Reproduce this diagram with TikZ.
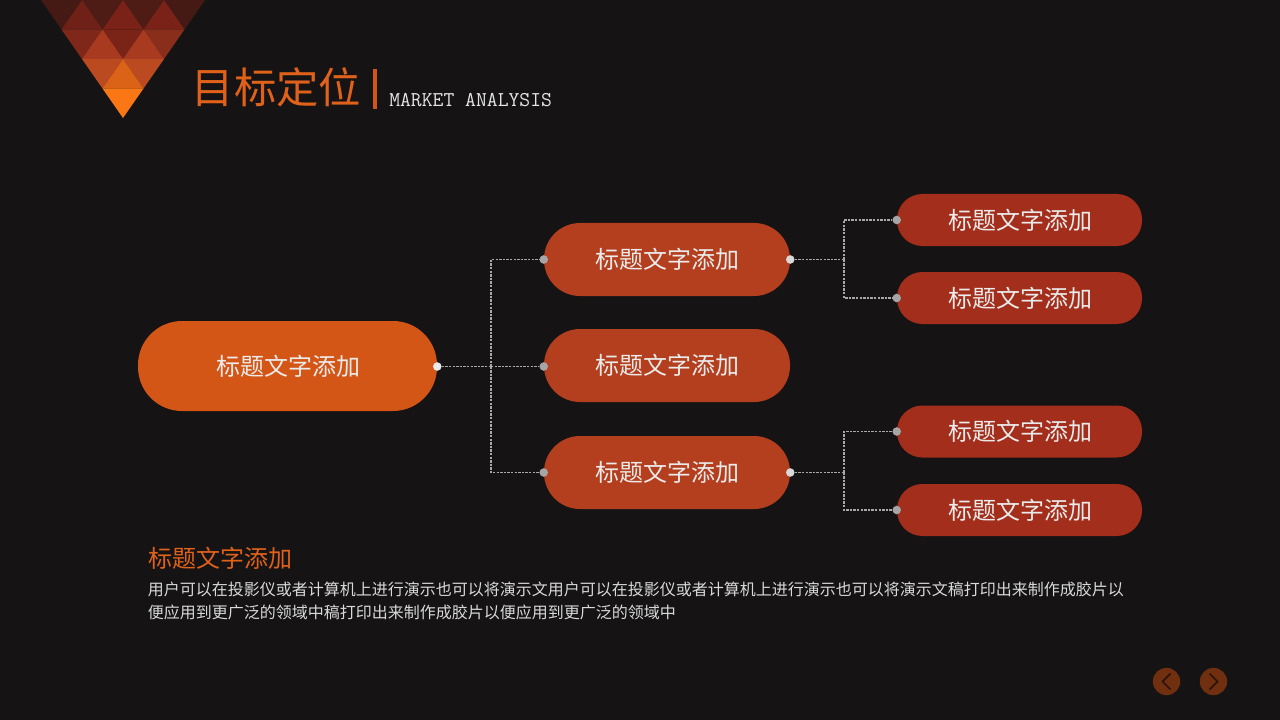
\documentclass[tikz,border=0pt]{standalone}
\usepackage{fontspec}
\setmainfont{Noto Sans CJK SC}[BoldFont={Noto Sans CJK SC}]
\newfontfamily\latinmono{Latin Modern Mono}
\definecolor{bg}{HTML}{151314}
\definecolor{oA}{HTML}{D35616}
\definecolor{oB}{HTML}{B43F1E}
\definecolor{oC}{HTML}{A22E1B}
\definecolor{titlec}{HTML}{E0621A}
\definecolor{navc}{HTML}{70300F}
\definecolor{navd}{HTML}{2C130C}
\definecolor{triD}{HTML}{DB6318}
\definecolor{triE}{HTML}{FB7614}
\tikzset{
  x=0.75pt,y=-0.75pt,
  pillA/.style={fill=oA,rounded corners=33pt,minimum width=224.25pt,minimum height=67.5pt,inner sep=0pt,text=white!92!black,font=\fontsize{18pt}{20pt}\selectfont},
  pillB/.style={fill=oB,rounded corners=27pt,minimum width=184.5pt,minimum height=54.75pt,inner sep=0pt,text=white!92!black,font=\fontsize{18pt}{20pt}\selectfont},
  pillC/.style={fill=oC,rounded corners=19pt,minimum width=183.75pt,minimum height=39pt,inner sep=0pt,text=white!92!black,font=\fontsize{18pt}{20pt}\selectfont},
  dotw/.style={circle,fill=#1,minimum size=6.4pt,inner sep=0pt},
  link/.style={draw=white!66!black,line width=0.85pt,dash pattern=on 1.8pt off 0.9pt},
  navbtn/.style={circle,fill=navc,minimum size=20.5pt,inner sep=0pt},
  chev/.style={draw=navd,line width=1.3pt}
}
\begin{document}
\begin{tikzpicture}
\path[fill=bg] (0,0) rectangle (1280,720);
\useasboundingbox (0,0) rectangle (1280,720);
% triangle mosaic
\foreach \i/\c in {0/451A15,1/4E1B15,2/4E1B15,3/451A15}{
  \definecolor{tc}{HTML}{\c}
  \fill[tc] ({41+41*\i},0) -- ({82+41*\i},0) -- ({61.5+41*\i},29.5) -- cycle;}
\foreach \i/\c in {0/6F2017,1/7A2118,2/7A2118}{
  \definecolor{tc}{HTML}{\c}
  \fill[tc] ({82+41*\i-20.5},29.5) -- ({82+41*\i},0) -- ({102.5+41*\i},29.5) -- cycle;}
\foreach \i/\c in {0/7F2819,1/7A2418,2/8A2E1C}{
  \definecolor{tc}{HTML}{\c}
  \fill[tc] ({61.5+41*\i},29.5) -- ({102.5+41*\i},29.5) -- ({82+41*\i},59) -- cycle;}
\foreach \i/\c in {0/A83A20,1/A83A20}{
  \definecolor{tc}{HTML}{\c}
  \fill[tc] ({82+41*\i},59) -- ({102.5+41*\i},29.5) -- ({123+41*\i},59) -- cycle;}
\foreach \i/\c in {0/BC4A20,1/BC4A20}{
  \definecolor{tc}{HTML}{\c}
  \fill[tc] ({82+41*\i},59) -- ({123+41*\i},59) -- ({102.5+41*\i},88.5) -- cycle;}
\fill[triD] (102.5,88.5) -- (123,59) -- (143.5,88.5) -- cycle;
\fill[triE] (102.5,88.5) -- (143.5,88.5) -- (123,118) -- cycle;
% title
\node[anchor=west,inner sep=0pt,text=titlec,font=\fontsize{31.75pt}{34pt}\selectfont] (title) at (191.5,87.5) {目标定位};
\node[anchor=center,fill=oA,minimum width=3pt,minimum height=30pt,inner sep=0pt] (bar) at (374.5,89) {};
\node[anchor=west,inner sep=0pt,text=white!90!black,font=\latinmono\fontsize{15.8pt}{18pt}\selectfont] (sub) at (389,100) {MARKET ANALYSIS};
% nodes
\node[pillA] (m) at (287.5,366) {\hspace*{1pt}\raisebox{-0.6pt}{标题文字添加}};
\node[pillB] (b1) at (667,259.5) {\raisebox{-0.4pt}{标题文字添加}};
\node[pillB] (b2) at (667,365.5) {标题文字添加};
\node[pillB] (b3) at (667,472.5) {\raisebox{-0.4pt}{标题文字添加}};
\node[pillC] (c1) at (1019.5,220) {\hspace*{1pt}标题文字添加};
\node[pillC] (c2) at (1019.5,298) {\hspace*{1pt}标题文字添加};
\node[pillC] (c3) at (1019.5,431.5) {\hspace*{1pt}标题文字添加};
\node[pillC] (c4) at (1019.5,510) {\hspace*{1pt}标题文字添加};
% dots
\node[dotw=white!92!black] (dm) at ([yshift=-0.375pt]m.east) {};
\node[dotw=white!65!black] (db1) at (b1.west) {};
\node[dotw=white!65!black] (db2) at ([yshift=-0.75pt]b2.west) {};
\node[dotw=white!65!black] (db3) at (b3.west) {};
\node[dotw=white!85!black] (eb1) at (b1.east) {};
\node[dotw=white!85!black] (eb3) at (b3.east) {};
\node[dotw=white!65!black] (dc1) at (c1.west) {};
\node[dotw=white!65!black] (dc2) at (c2.west) {};
\node[dotw=white!65!black] (dc3) at (c3.west) {};
\node[dotw=white!65!black] (dc4) at (c4.west) {};
% connectors
\coordinate (busA) at (491,366.5);
\coordinate (busB) at (844,259.5);
\coordinate (busC) at (844,472.5);
\draw[link] (dm) -- (busA);
\draw[link] (busA) |- (db1);
\draw[link] (busA) -- (db2);
\draw[link] (busA) |- (db3);
\draw[link] (eb1) -- (busB);
\draw[link] (busB) |- (dc1);
\draw[link] (busB) |- (dc2);
\draw[link] (eb3) -- (busC);
\draw[link] (busC) |- (dc3);
\draw[link] (busC) |- (dc4);
% bottom text
\node[anchor=west,inner sep=0pt,text=titlec,font=\fontsize{18pt}{20pt}\selectfont] (h) at (148,558) {标题文字添加};
\node[anchor=north west,inner sep=0pt,align=left,text=white!85!black,font=\fontsize{12pt}{17.25pt}\selectfont] (body) at (147.5,581.5) {用户可以在投影仪或者计算机上进行演示也可以将演示文用户可以在投影仪或者计算机上进行演示也可以将演示文稿打印出来制作成胶片以\\便应用到更广泛的领域中稿打印出来制作成胶片以便应用到更广泛的领域中};
% nav buttons
\node[navbtn] (prev) at (1166.5,681.5) {};
\node[navbtn] (next) at (1213.5,681.5) {};
\draw[chev] ([shift={(4,-8)}]prev.center) -- ([shift={(-4,0)}]prev.center) -- ([shift={(4,8)}]prev.center);
\draw[chev] ([shift={(-4,-8)}]next.center) -- ([shift={(4,0)}]next.center) -- ([shift={(-4,8)}]next.center);
\end{tikzpicture}
\end{document}
